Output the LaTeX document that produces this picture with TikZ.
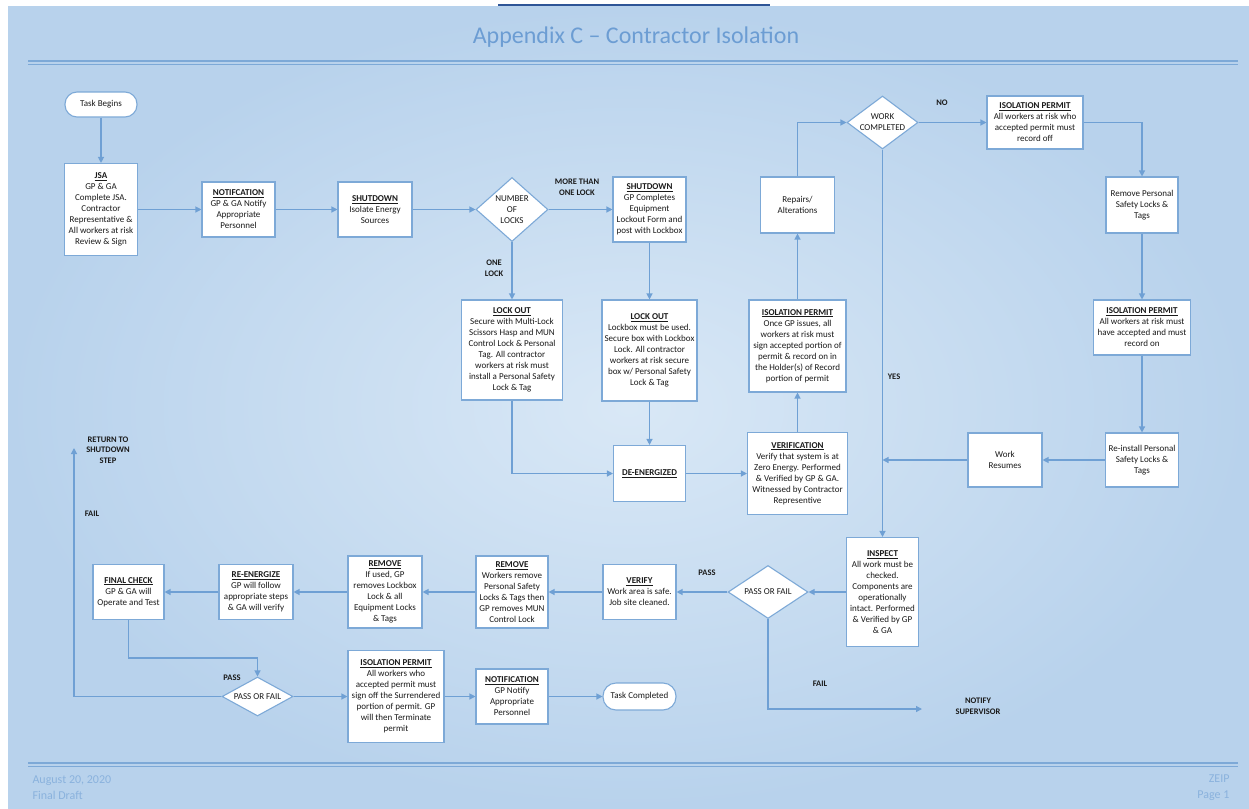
\documentclass[tikz,border=0pt]{standalone}
\usepackage{fontspec}
\setmainfont{Carlito}
\usetikzlibrary{arrows.meta,shapes.geometric}
\definecolor{bgin}{HTML}{D9E8F6}
\definecolor{bgout}{HTML}{B8D2EC}
\definecolor{edge}{HTML}{7DA9D7}
\definecolor{wire}{HTML}{6FA0D4}
\definecolor{ink}{HTML}{1A1A1A}
\definecolor{titleblue}{HTML}{6C9DD3}
\definecolor{footblue}{HTML}{8AB2DD}
\definecolor{topbar}{HTML}{2E5597}
\newcommand{\hd}[1]{\underline{\textbf{#1}}}
\begin{document}
\begin{tikzpicture}[x=1pt,y=-1pt,
  box/.style={draw=edge, fill=white, line width=1.1pt, align=center, text=ink,
              font=\fontsize{9}{11}\selectfont, inner sep=0.5pt},
  sz/.style 2 args={minimum width=#1pt, minimum height=#2pt},
  term/.style={box, rounded corners=12pt},
  dia/.style={draw=edge, fill=white, line width=1.1pt, diamond, inner sep=0pt},
  dtext/.style={align=center, text=ink, font=\fontsize{9}{11}\selectfont},
  flow/.style={draw=wire, line width=1.2pt, -{Triangle[length=6pt,width=6pt]}},
  lbl/.style={align=center, text=ink, font=\fontsize{8.5}{10.5}\selectfont\bfseries},
  rulebar/.style={draw=edge},
]
% page and background
\useasboundingbox (0,0) rectangle (1249,808);
\fill[white] (0,0) rectangle (1249,808);
\shade[inner color=bgin, outer color=bgout] (8,7) rectangle (1249,808);
\draw[topbar, line width=2pt] (498,5) -- (770,5);

% header
\node[font=\fontsize{24}{28}\selectfont, text=titleblue] (title) at (636,37) {Appendix C -- Contractor Isolation};
\draw[rulebar, line width=1.8pt] (28,61) -- (1238,61);
\draw[rulebar, line width=0.9pt] (28,64.3) -- (1238,64.3);

% footer
\draw[rulebar, line width=1.8pt] (28,763.3) -- (1238,763.3);
\draw[rulebar, line width=0.9pt] (28,766.7) -- (1238,766.7);
\node[font=\fontsize{12}{16}\selectfont, text=footblue, anchor=west, align=left] (date) at (29,788) {August 20, 2020\\Final Draft};
\node[font=\fontsize{12}{16}\selectfont, text=footblue, anchor=east, align=right] (page) at (1233,788) {ZEIP\\Page 1};

% top row
\node[term, sz={72}{25}] (begin) at (101,104.5) {Task Begins};
\node[box, sz={73}{92}] (jsa) at (101,209.5) {\hd{JSA}\\GP \& GA\\Complete JSA.\\Contractor\\Representative \&\\All workers at risk\\Review \& Sign};
\node[box, sz={73}{55}] (notif1) at (238.5,209.5) {\hd{NOTIFCATION}\\GP \& GA Notify\\Appropriate\\Personnel};
\node[box, sz={74}{55}] (shut1) at (375,209.5) {\hd{SHUTDOWN}\\Isolate Energy\\Sources};
\node[dia, sz={72}{64}, label={[dtext,name=numtxt]center:NUMBER\\OF\\LOCKS}] (num) at (512,209.5) {};
\node[box, sz={73}{65}] (shut2) at (649.5,209.5) {\hd{SHUTDOWN}\\GP Completes\\Equipment\\Lockout Form and\\post with Lockbox};

% lockout branch
\node[box, sz={101}{100}] (lock1) at (512,350) {\hd{LOCK OUT}\\Secure with Multi-Lock\\Scissors Hasp and MUN\\Control Lock \& Personal\\Tag. All contractor\\workers at risk must\\install a Personal Safety\\Lock \& Tag};
\node[box, sz={95}{101}] (lock2) at (649.5,350.5) {\hd{LOCK OUT}\\Lockbox must be used.\\Secure box with Lockbox\\Lock. All contractor\\workers at risk secure\\box w/ Personal Safety\\Lock \& Tag};
\node[box, sz={72}{56}] (deen) at (649.5,473.5) {\hd{DE-ENERGIZED}};
\node[box, sz={100}{82}] (verif) at (797.5,473.5) {\hd{VERIFICATION}\\Verify that system is at\\Zero Energy. Performed\\\& Verified by GP \& GA.\\Witnessed by Contractor\\Representive};
\node[box, sz={97}{92}] (iso2) at (797.5,346) {\hd{ISOLATION PERMIT}\\Once GP issues, all\\workers at risk must\\sign accepted portion of\\permit \& record on in\\the Holder(s) of Record\\portion of permit};
\node[box, sz={74}{56}] (repairs) at (797.5,205) {Repairs/\\Alterations};
\node[dia, sz={71}{53}, label={[dtext,name=worktxt]center:WORK\\COMPLETED}] (work) at (882.5,122.5) {};

% right column
\node[box, sz={96}{53}] (iso1) at (1035,122.5) {\hd{ISOLATION PERMIT}\\All workers at risk who\\accepted permit must\\record off};
\node[box, sz={72}{56}] (removep) at (1142,205) {Remove Personal\\Safety Locks \&\\Tags};
\node[box, sz={97}{55}] (iso3) at (1142,327.5) {\hd{ISOLATION PERMIT}\\All workers at risk must\\have accepted and must\\record on};
\node[box, sz={73}{54}] (reinst) at (1142,460) {Re-install Personal\\Safety Locks \&\\Tags};
\node[box, sz={74}{54}] (resume) at (1005,460) {Work\\Resumes};

% inspection row
\node[box, sz={72}{109}] (inspect) at (882.5,592) {\hd{INSPECT}\\All work must be\\checked.\\Components are\\operationally\\intact. Performed\\\& Verified by GP\\\& GA};
\node[dia, sz={80}{53}, label={[dtext,name=pf1txt]center:PASS OR FAIL}] (pf1) at (768,592) {};
\node[box, sz={73}{55}] (verify) at (639.5,592) {\hd{VERIFY}\\Work area is safe.\\Job site cleaned.};
\node[box, sz={72}{72}] (remove2) at (512,592) {\hd{REMOVE}\\Workers remove\\Personal Safety\\Locks \& Tags then\\GP removes MUN\\Control Lock};
\node[box, sz={74}{72}] (remove1) at (385,592) {\hd{REMOVE}\\If used, GP\\removes Lockbox\\Lock \& all\\Equipment Locks\\\& Tags};
\node[box, sz={74}{55}] (reen) at (256,592) {\hd{RE-ENERGIZE}\\GP will follow\\appropriate steps\\\& GA will verify};
\node[box, sz={71}{55}] (final) at (128.5,592) {\hd{FINAL CHECK}\\GP \& GA will\\Operate and Test};

% closing row
\node[dia, sz={71}{39}, label={[dtext,name=pf2txt]center:PASS OR FAIL}] (pf2) at (257.5,696.5) {};
\node[box, sz={96}{92}] (isob) at (396,696.5) {\hd{ISOLATION PERMIT}\\All workers who\\accepted permit must\\sign off the Surrendered\\portion of permit. GP\\will then Terminate\\permit};
\node[box, sz={72}{55}] (notifb) at (512,696.5) {\hd{NOTIFICATION}\\GP Notify\\Appropriate\\Personnel};
\node[term, sz={73}{27}, rounded corners=13pt] (done) at (639.5,696.5) {Task Completed};

% free ends
\coordinate (failend) at (922,709);
\coordinate (ret) at (74,448);

% connectors
\draw[flow] (begin) -- (jsa);
\draw[flow] (jsa) -- (notif1);
\draw[flow] (notif1) -- (shut1);
\draw[flow] (shut1) -- (num);
\draw[flow] (num) -- (shut2);
\draw[flow] (num) -- (lock1);
\draw[flow] (shut2) -- (lock2);
\draw[flow] (lock2) -- (deen);
\draw[flow] (lock1.south) |- (deen.west);
\draw[flow] (deen) -- (verif);
\draw[flow] (verif) -- (iso2);
\draw[flow] (iso2) -- (repairs);
\draw[flow] (repairs.north) |- (work.west);
\draw[flow] (work) -- (iso1);
\draw[flow] (iso1.east) -| (removep.north);
\draw[flow] (removep) -- (iso3);
\draw[flow] (iso3) -- (reinst);
\draw[flow] (reinst) -- (resume);
\draw[flow] (resume.west) -- (resume.west -| work.south);
\draw[flow] (work.south) -- (inspect.north);
\draw[flow] (inspect) -- (pf1);
\draw[flow] (pf1) -- (verify);
\draw[flow] (pf1.south) |- (failend);
\draw[flow] (verify) -- (remove2);
\draw[flow] (remove2) -- (remove1);
\draw[flow] (remove1) -- (reen);
\draw[flow] (reen) -- (final);
\draw[flow] (final.south) -- ++(0,38) -| (pf2.north);
\draw[flow] (pf2.west) -| (ret);
\draw[flow] (pf2) -- (isob);
\draw[flow] (isob) -- (notifb);
\draw[flow] (notifb) -- (done);

% branch labels
\node[lbl] (lmore) at (577,187) {MORE THAN\\ONE LOCK};
\node[lbl] (lone) at (494,268) {ONE\\LOCK};
\node[lbl] (lno) at (942,103) {NO};
\node[lbl] (lyes) at (894,377) {YES};
\node[lbl] (lpass1) at (707,573) {PASS};
\node[lbl] (lfail1) at (820,684) {FAIL};
\node[lbl] (lnotify) at (978,706) {NOTIFY\\SUPERVISOR};
\node[lbl] (lreturn) at (108,450) {RETURN TO\\SHUTDOWN\\STEP};
\node[lbl] (lfail2) at (92,514) {FAIL};
\node[lbl] (lpass2) at (232,678) {PASS};
\end{tikzpicture}
\end{document}
